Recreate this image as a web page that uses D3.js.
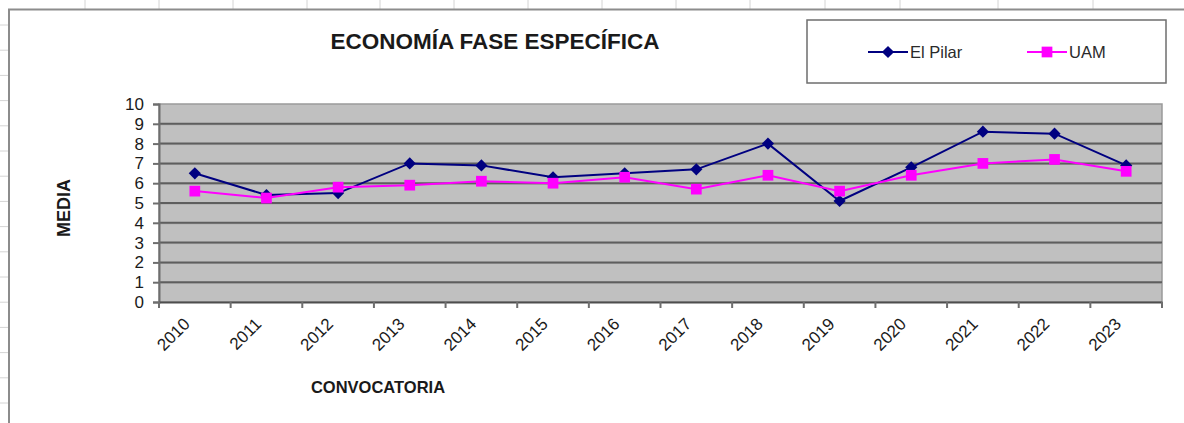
<!DOCTYPE html>
<html>
<head>
<meta charset="utf-8">
<script src="https://cdn.jsdelivr.net/npm/d3@7"></script>
<style>
  body { margin: 0; background: #fff; }
  svg { display: block; font-family: Arial, "Liberation Sans", sans-serif; }
</style>
</head>
<body>
<svg id="chart" width="1184" height="423"></svg>
<script>
// data
var years = ["2010","2011","2012","2013","2014","2015","2016","2017","2018","2019","2020","2021","2022","2023"];
var elPilar = [6.5, 5.4, 5.5, 7.0, 6.9, 6.3, 6.5, 6.7, 8.0, 5.1, 6.8, 8.6, 8.5, 6.9];
var uam = [5.6, 5.25, 5.8, 5.9, 6.1, 6.0, 6.3, 5.7, 6.4, 5.6, 6.4, 7.0, 7.2, 6.6];
var yTicks = [0,1,2,3,4,5,6,7,8,9,10];

var svg = d3.select("#chart");
var W = 1184, H = 423;

// spreadsheet grid behind the chart object
var bg = svg.append("g").attr("class", "sheet");
var colX = [85, 159, 233, 307, 380, 454, 528, 602, 676, 750, 825, 900, 998, 1093];
colX.forEach(function (x) {
    bg.append("line").attr("x1", x).attr("x2", x).attr("y1", 0).attr("y2", 9)
        .attr("stroke", "#d4d4d4").attr("stroke-width", 1);
});
for (var gy = 25; gy < H; gy += 25.2) {
    bg.append("line").attr("x1", 0).attr("x2", 8).attr("y1", gy).attr("y2", gy)
        .attr("stroke", "#d4d4d4").attr("stroke-width", 1);
}

// chart object frame
svg.append("rect").attr("x", 9).attr("y", 9.5).attr("width", W + 20).attr("height", H + 20)
    .attr("fill", "#fff").attr("stroke", "#8c8c8c").attr("stroke-width", 2);

var plot = {left: 159, top: 104, right: 1162, bottom: 302};

var x = d3.scaleBand().domain(years).range([plot.left, plot.right]).padding(0);
var y = d3.scaleLinear().domain([0, 10]).range([plot.bottom, plot.top]);

// plot area
svg.append("rect").attr("x", plot.left).attr("y", plot.top)
    .attr("width", plot.right - plot.left).attr("height", plot.bottom - plot.top)
    .attr("fill", "#c0c0c0").attr("stroke", "#9a9a9a").attr("stroke-width", 1.5);

// gridlines
var grid = svg.append("g");
grid.selectAll("line.g1").data(yTicks.slice(1, 10)).enter().append("line")
    .attr("x1", plot.left).attr("x2", plot.right)
    .attr("y1", function (d) { return y(d) + 1; }).attr("y2", function (d) { return y(d) + 1; })
    .attr("stroke", "#a8a8a8").attr("stroke-width", 1);
grid.selectAll("line.g2").data(yTicks.slice(1, 10)).enter().append("line")
    .attr("x1", plot.left).attr("x2", plot.right)
    .attr("y1", function (d) { return y(d); }).attr("y2", function (d) { return y(d); })
    .attr("stroke", "#5e5e5e").attr("stroke-width", 2);

// y axis
var yAxis = svg.append("g").attr("transform", "translate(" + plot.left + ",0)")
    .call(d3.axisLeft(y).tickValues(yTicks).tickSize(6).tickPadding(9).tickFormat(d3.format("d")));
yAxis.select(".domain").attr("stroke", "#6e6e6e").attr("stroke-width", 2);
yAxis.selectAll(".tick line").attr("stroke", "#6e6e6e").attr("stroke-width", 2);
yAxis.selectAll("text").attr("font-size", 17).attr("fill", "#1a1a1a")
    .attr("font-family", "Arial, 'Liberation Sans', sans-serif");

// x axis: ticks sit on category boundaries
var xAxis = svg.append("g").attr("transform", "translate(0," + plot.bottom + ")")
    .call(d3.axisBottom(x).tickSize(0).tickPadding(0));
xAxis.select(".domain").attr("stroke", "#4e4e4e").attr("stroke-width", 2);
xAxis.selectAll(".tick line").remove();
xAxis.selectAll("line.bound").data(years.concat(["end"])).enter().append("line")
    .attr("x1", function (d, i) { return plot.left + i * x.bandwidth(); })
    .attr("x2", function (d, i) { return plot.left + i * x.bandwidth(); })
    .attr("y1", 0).attr("y2", 6)
    .attr("stroke", "#6e6e6e").attr("stroke-width", 2);
xAxis.selectAll(".tick text")
    .attr("font-size", 17).attr("fill", "#1a1a1a")
    .attr("font-family", "Arial, 'Liberation Sans', sans-serif")
    .attr("text-anchor", "end")
    .attr("dy", null).attr("y", 0)
    .attr("transform", "translate(-4,23) rotate(-45)");

// series
var line = d3.line()
    .x(function (d, i) { return x(years[i]) + x.bandwidth() / 2; })
    .y(function (d) { return y(d); });

svg.append("path").datum(elPilar).attr("d", line)
    .attr("fill", "none").attr("stroke", "#000080").attr("stroke-width", 2);
svg.append("path").datum(uam).attr("d", line)
    .attr("fill", "none").attr("stroke", "#ff00ff").attr("stroke-width", 2);

var diamond = d3.symbol().type(d3.symbolDiamond2).size(95);
var square = d3.symbol().type(d3.symbolSquare).size(115);

svg.selectAll("path.pilar").data(elPilar).enter().append("path")
    .attr("class", "pilar").attr("d", diamond)
    .attr("transform", function (d, i) { return "translate(" + (x(years[i]) + x.bandwidth() / 2) + "," + y(d) + ")"; })
    .attr("fill", "#000080");
svg.selectAll("path.uam").data(uam).enter().append("path")
    .attr("class", "uam").attr("d", square)
    .attr("transform", function (d, i) { return "translate(" + (x(years[i]) + x.bandwidth() / 2) + "," + y(d) + ")"; })
    .attr("fill", "#ff00ff");

// titles
svg.append("text").attr("x", 495).attr("y", 49).attr("text-anchor", "middle")
    .attr("font-size", 22.5).attr("font-weight", "bold").attr("fill", "#1a1a1a")
    .text("ECONOMÍA FASE ESPECÍFICA");
svg.append("text").attr("x", 378).attr("y", 393).attr("text-anchor", "middle")
    .attr("font-size", 16.5).attr("font-weight", "bold").attr("fill", "#1a1a1a")
    .text("CONVOCATORIA");
svg.append("text").attr("transform", "translate(70,208) rotate(-90)").attr("text-anchor", "middle")
    .attr("font-size", 18).attr("font-weight", "bold").attr("fill", "#1a1a1a")
    .text("MEDIA");

// legend
var lg = svg.append("g");
lg.append("rect").attr("x", 807).attr("y", 20).attr("width", 359).attr("height", 63)
    .attr("fill", "#fff").attr("stroke", "#6e6e6e").attr("stroke-width", 1.5);
var items = [
    {name: "El Pilar", color: "#000080", sym: diamond, x: 868},
    {name: "UAM", color: "#ff00ff", sym: square, x: 1027}
];
items.forEach(function (it) {
    lg.append("line").attr("x1", it.x).attr("x2", it.x + 40).attr("y1", 52).attr("y2", 52)
        .attr("stroke", it.color).attr("stroke-width", 2);
    lg.append("path").attr("d", it.sym).attr("fill", it.color)
        .attr("transform", "translate(" + (it.x + 20) + ",52)");
    lg.append("text").attr("x", it.x + 42).attr("y", 58).attr("font-size", 16.5).attr("fill", "#2a2a2a")
        .text(it.name);
});
</script>
</body>
</html>
